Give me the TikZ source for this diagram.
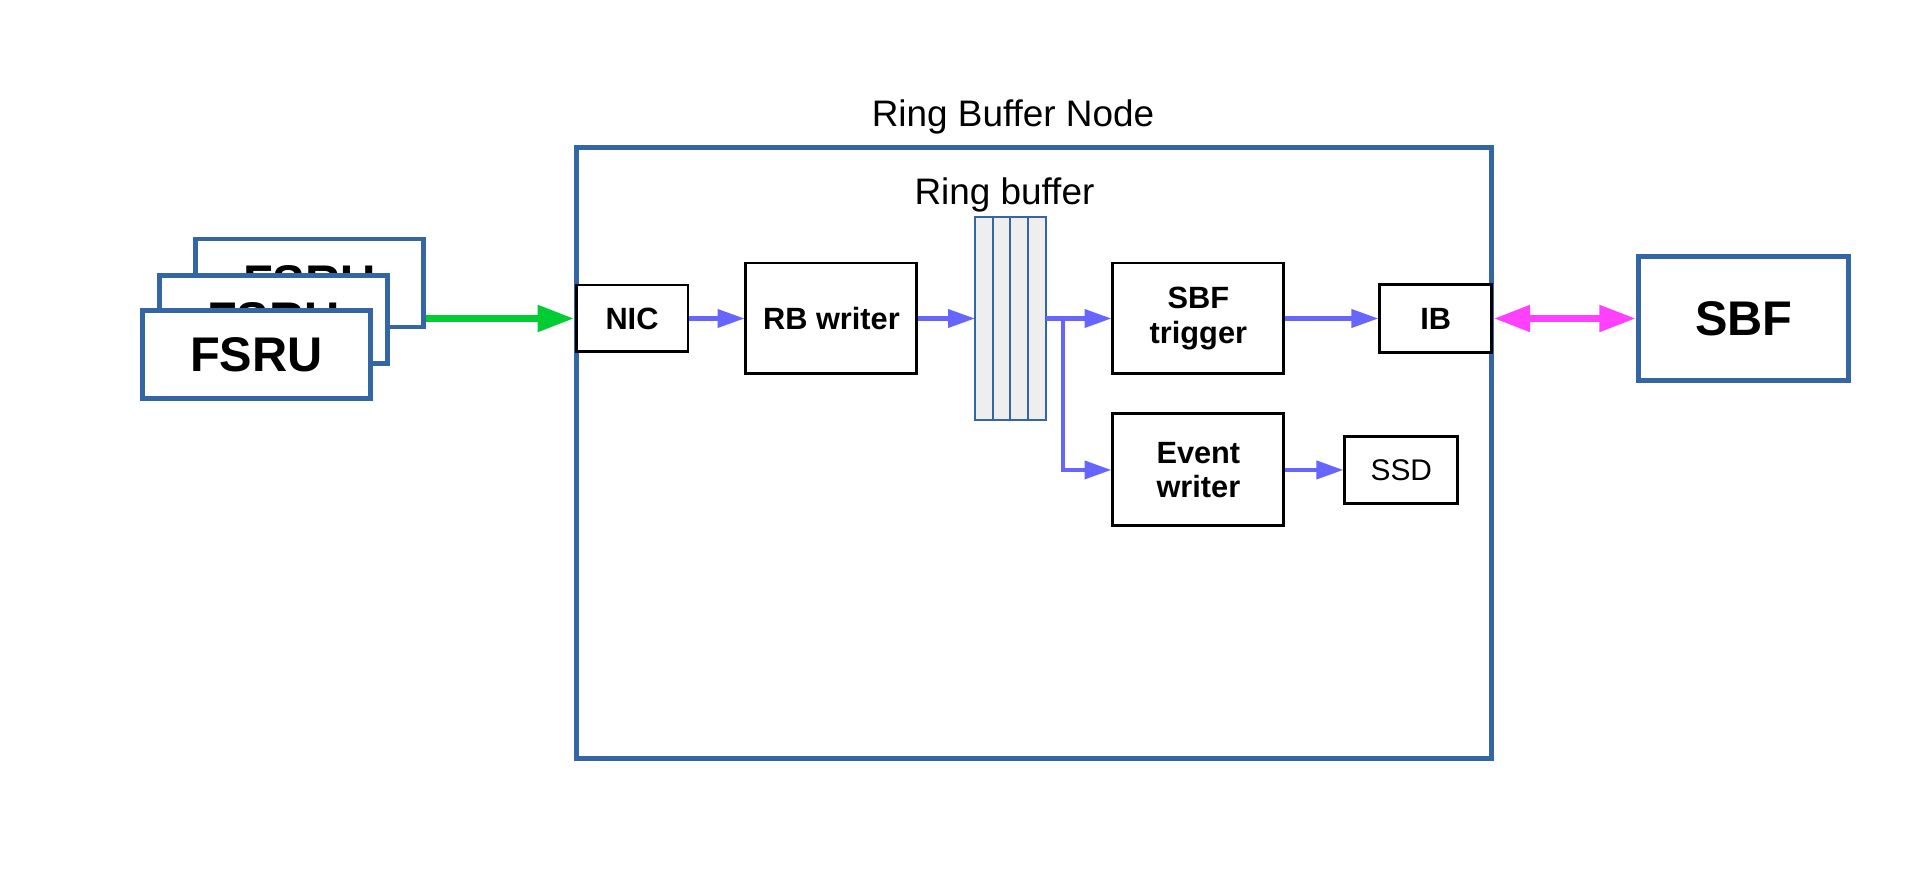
\documentclass[tikz,border=0pt]{standalone}
\usepackage{fontspec}
\setmainfont{Liberation Sans}
\usetikzlibrary{positioning,calc,arrows.meta}

\definecolor{boxblue}{HTML}{3465A4}
\definecolor{flowblue}{HTML}{6666FF}
\definecolor{linkgreen}{HTML}{00CC33}
\definecolor{linkpink}{HTML}{FF40FF}
\definecolor{slotgrey}{HTML}{EEEEEE}

\tikzset{
  unitbox/.style={draw=boxblue, line width=2.8pt, fill=white,
    minimum width=4.56cm, minimum height=1.76cm,
    font=\fontsize{27.7}{33}\selectfont\bfseries},
  procbox/.style={draw=black, line width=1.7pt, fill=white, align=center,
    font=\fontsize{17.5}{19.7}\selectfont\bfseries},
  titlelabel/.style={inner sep=0pt, font=\fontsize{21}{25}\selectfont},
  flow/.style={draw=flowblue, line width=2.3pt,
    -{Triangle[length=15.3pt,width=10.2pt]}},
  link/.style={line width=4.5pt},
  bigtip/.tip={Triangle[length=21pt,width=14.2pt]}
}

\begin{document}
\begin{tikzpicture}[x=0.02cm, y=0.02cm]
  \useasboundingbox (0,0) rectangle (1920,886);
  % FSRU stack
  \node (fsru3) [unitbox] at (309.5,603) {FSRU};
  \node (fsru2) [unitbox] at (273.5,566.5) {FSRU};
  \node (fsru1) [unitbox] at (256.5,531.5) {FSRU};
  % Ring buffer node
  \node (rbnode) [draw=boxblue, line width=2.8pt,
    minimum width=18.32cm, minimum height=12.24cm] at (1034,433) {};
  \node (rbtitle) [titlelabel, above = 0.2cm of rbnode, xshift=-0.42cm]
    {Ring Buffer Node};
  \node (nic) [procbox, minimum width=2.24cm, minimum height=1.34cm]
    at (632,567.5) {NIC};
  \node (rbwriter) [procbox, minimum width=3.42cm, minimum height=2.22cm,
    right = 1.1cm of nic] {RB writer};
  \node (ring) [draw=boxblue, line width=1.2pt, fill=slotgrey, outer sep=0pt,
    minimum width=1.42cm, minimum height=4.06cm,
    right = 1.13cm of rbwriter] {};
  \foreach \k in {1,2,3}
    \draw [draw=boxblue, line width=1.2pt]
      ($(ring.south west)!\k/4!(ring.south east)$) --
      ($(ring.north west)!\k/4!(ring.north east)$);
  \node (ringlabel) [titlelabel, above = 0.09cm of ring, xshift=-0.12cm]
    {Ring buffer};
  \node (sbftrig) [procbox, minimum width=3.42cm, minimum height=2.22cm,
    right = 1.31cm of ring] {SBF\\trigger};
  \node (ib) [procbox, minimum width=2.24cm, minimum height=1.36cm,
    right = 1.86cm of sbftrig] {IB};
  \node (evwriter) [procbox, minimum width=3.42cm, minimum height=2.24cm,
    below = 0.74cm of sbftrig] {Event\\writer};
  \node (ssd) [procbox, font=\fontsize{17}{19.7}\selectfont,
    minimum width=2.26cm, minimum height=1.34cm,
    right = 1.16cm of evwriter] {SSD};
  \node (sbf) [unitbox, minimum width=4.2cm, minimum height=2.48cm,
    right = 2.86cm of ib] {SBF};
  % Draw arrows
  \draw [link, draw=linkgreen, -bigtip] (fsru3.east |- nic.west) -- (nic.west);
  \draw [flow] (nic) -- (rbwriter);
  \draw [flow] (rbwriter) -- (ring);
  \coordinate (split) at ($(ring.east)+(0.34cm,0)$);
  \draw [flow] (ring.east) -- (sbftrig);
  \draw [flow] (split) |- (evwriter);
  \draw [flow] (sbftrig) -- (ib);
  \draw [flow] (evwriter) -- (ssd);
  \draw [link, draw=linkpink, bigtip-bigtip] (ib) -- (sbf);
\end{tikzpicture}
\end{document}
